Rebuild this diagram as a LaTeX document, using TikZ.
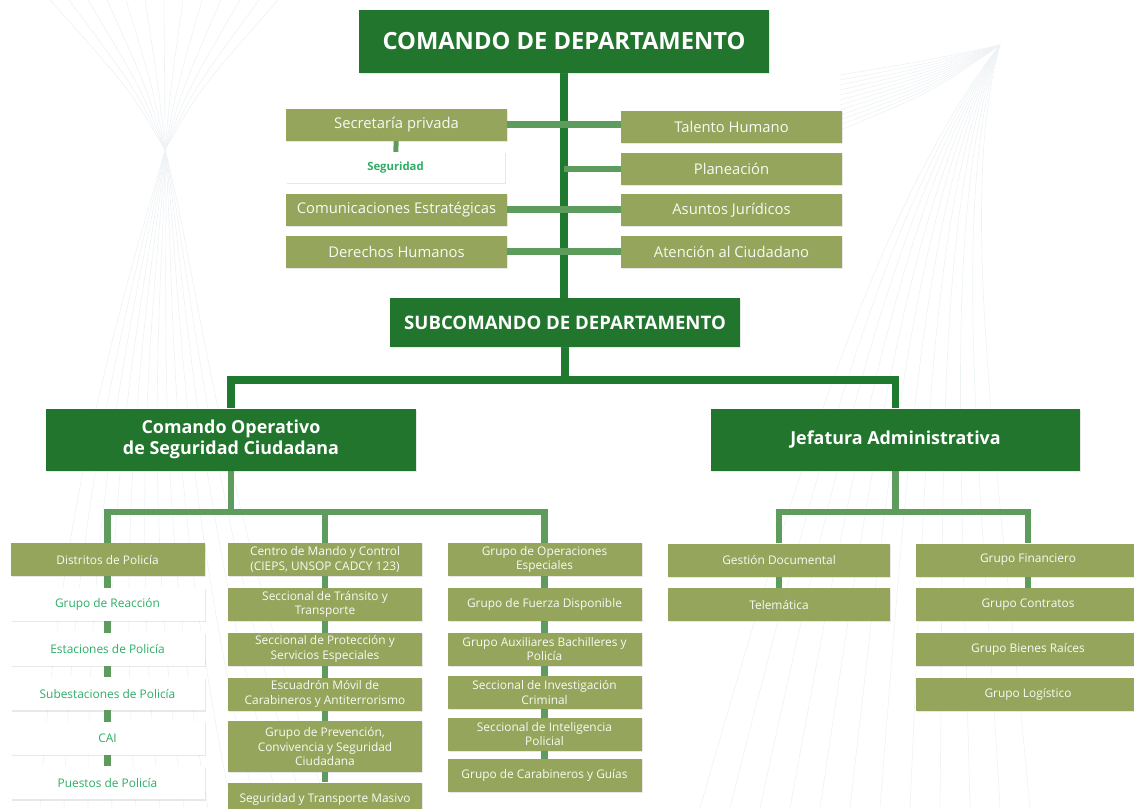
\documentclass[tikz,border=0pt]{standalone}
\usepackage{fontspec}
\setmainfont{Open Sans}
\usepackage{tikz}
\usetikzlibrary{positioning,calc,backgrounds,shadows}
\definecolor{cmdGreen}{HTML}{21752D}
\definecolor{trunkGreen}{HTML}{1F7A2F}
\definecolor{branchGreen}{HTML}{5E9C5E}
\definecolor{unitOlive}{HTML}{95A55C}
\definecolor{leafGreen}{HTML}{2DAD66}
\definecolor{haze}{HTML}{EDF2F5}

\tikzset{
  boxshade/.style={drop shadow={opacity=0.18, shadow xshift=1pt, shadow yshift=-1.4pt}},
  cmdbox/.style={boxshade, fill=cmdGreen, text=white, inner sep=0pt, align=center},
  unitbox/.style={boxshade, fill=unitOlive, text=white!94!unitOlive, inner sep=0pt,
    align=center, minimum width=221pt, minimum height=32pt, font=\fontsize{14.8}{17}\selectfont},
  subbox/.style={boxshade, fill=unitOlive, text=white!94!unitOlive, inner sep=0pt,
    align=center, minimum width=194pt, minimum height=33pt, font=\fontsize{11.9}{14.5}\selectfont},
  leafbox/.style={subbox, fill=white, text=leafGreen},
  trunk/.style={trunkGreen, line width=7.5pt},
  branch/.style={branchGreen, line width=6.5pt}
}

\begin{document}
\begin{tikzpicture}[x=1pt, y=-1pt]
  \useasboundingbox (0,0) rectangle (1134,808);
  \clip (0,0) rectangle (1134,808);

  % top level
  \node[cmdbox, minimum width=410pt, minimum height=63pt, font=\bfseries\fontsize{23.7}{28}\selectfont]
    (top) at (564,41.5) {COMANDO DE DEPARTAMENTO};

  % staff offices, left and right of the trunk
  \node[unitbox] (sec) at (396.5,124.5) {Secretaría privada};
  \node[leafbox, minimum width=219pt, minimum height=31pt, font=\bfseries\fontsize{11.3}{13}\selectfont]
    (seg) at (395.5,167.5) {Seguridad};
  \node[unitbox] (com) at (396.5,209.5) {Comunicaciones Estratégicas};
  \node[unitbox] (der) at (396.5,251.5) {Derechos Humanos};
  \node[unitbox] (tal) at (731.5,126.5) {Talento Humano};
  \node[unitbox] (pla) at (731.5,169) {Planeación};
  \node[unitbox] (asu) at (731.5,210) {Asuntos Jurídicos};
  \node[unitbox] (ate) at (731.5,251.5) {Atención al Ciudadano};

  \node[cmdbox, minimum width=350pt, minimum height=49pt, font=\bfseries\fontsize{18.6}{22}\selectfont]
    (sub) at (565,322.5) {SUBCOMANDO DE DEPARTAMENTO};

  % the two operative heads
  \node[cmdbox, minimum width=370pt, minimum height=62pt, font=\bfseries\fontsize{17.9}{21}\selectfont]
    (cos) at (231,439.5) {Comando Operativo\\de Seguridad Ciudadana};
  \node[cmdbox, minimum width=369pt, minimum height=62pt, font=\bfseries\fontsize{17.9}{21}\selectfont]
    (jef) at (895.5,439.5) {Jefatura Administrativa};

  % column 1: districts and what hangs below them
  \node[subbox] (c1-1) at (107.5,559.5) {Distritos de Policía};
  \foreach \txt [count=\i from 2] in {Grupo de Reacción, Estaciones de Policía,
      Subestaciones de Policía, CAI, Puestos de Policía}{
    \pgfmathsetmacro{\yy}{604.5+(\i-2)*44.6}
    \node[leafbox] (c1-\i) at (107.5,\yy) {\txt};
  }

  % column 2
  \foreach \yy/\hh/\txt [count=\i] in {
      559.5/33/{Centro de Mando y Control\\(CIEPS, UNSOP CADCY 123)},
      604.5/33/{Seccional de Tránsito y\\Transporte},
      649/33/{Seccional de Protección y\\Servicios Especiales},
      694/33/{Escuadrón Móvil de\\Carabineros y Antiterrorismo},
      746.5/51/{Grupo de Prevención,\\Convivencia y Seguridad\\Ciudadana},
      799/33/{Seguridad y Transporte Masivo}}{
    \node[subbox, minimum height=\hh pt] (c2-\i) at (325,\yy) {\txt};
  }

  % column 3
  \foreach \yy/\txt [count=\i] in {
      559.5/{Grupo de Operaciones\\Especiales},
      604.5/{Grupo de Fuerza Disponible},
      649/{Grupo Auxiliares Bachilleres y\\Policía},
      692.5/{Seccional de Investigación\\Criminal},
      734/{Seccional de Inteligencia\\Policial},
      775.5/{Grupo de Carabineros y Guías}}{
    \node[subbox] (c3-\i) at (544.5,\yy) {\txt};
  }

  % administrative side
  \node[subbox, minimum width=222pt] (ges) at (779,560) {Gestión Documental};
  \node[subbox, minimum width=222pt] (tel) at (779,604.5) {Telemática};
  \foreach \yy/\txt [count=\i] in {560/Grupo Financiero, 604.5/Grupo Contratos,
      649/Grupo Bienes Raíces, 694/Grupo Logístico}{
    \node[subbox, minimum width=224pt] (adm-\i) at (1028,\yy) {\txt};
  }

  \begin{scope}[on background layer]
    % faint line work behind the chart
    \foreach \k in {0,...,12}{
      \pgfmathsetmacro{\xa}{50+\k*19}
      \pgfmathsetmacro{\xm}{60+\k*13}
      \pgfmathsetmacro{\xb}{40+\k*24}
      \draw[haze, line width=0.6pt] (\xa,0) .. controls ({165+(\xa-165)*0.3},90) .. (165,150)
        .. controls ({165+(\k-6)*5},260) and (\xm,480) .. (\xb,808);
    }
    \foreach \k in {0,...,11}{
      \draw[haze, line width=0.6pt] (1000,45) .. controls ({880+\k*7},200) and ({800+\k*18},460)
        .. ({700+\k*30},808);
      \draw[haze, line width=0.6pt] (1000,45) .. controls (930,{60+\k*3}) .. (840,{75+\k*5});
    }

    % command chain
    \draw[trunk] (top.south) -- (top.south |- sub.north);
    \draw[branch] (sec.east) -- (sec.east -| tal.west);
    \draw[branch] (pla.west) -- (pla.west -| top.south);
    \draw[branch] (com.east) -- (com.east -| asu.west);
    \draw[branch] (der.east) -- (der.east -| ate.west);
    \draw[branch, line width=5pt] (sec) -- (seg);

    \coordinate (opsplit) at (566,380);
    \draw[trunk] (sub.south) -- (sub.south |- opsplit);
    \draw[trunk] (cos.north) -- (cos.north |- opsplit) -- (jef.north |- opsplit) -- (jef.north);

    % operative columns
    \coordinate (colsplit) at (0,512);
    \draw[branch] (cos.south) -- (cos.south |- colsplit);
    \draw[branch] (c1-1.north) -- (c1-1.north |- colsplit) -- (c3-1.north |- colsplit) -- (c3-1.north);
    \draw[branch] (c2-1.north) -- (c2-1.north |- colsplit);
    \draw[branch] (c1-1) -- (c1-6);
    \draw[branch] (c2-1) -- (c2-6);
    \draw[branch] (c3-1) -- (c3-6);

    % administrative columns
    \draw[branch] (jef.south) -- (jef.south |- colsplit);
    \draw[branch] (ges.north) -- (ges.north |- colsplit) -- (adm-1.north |- colsplit) -- (adm-1.north);
    \draw[branch] (ges) -- (tel);
    \draw[branch] (adm-1) -- (adm-2);
  \end{scope}
\end{tikzpicture}
\end{document}
